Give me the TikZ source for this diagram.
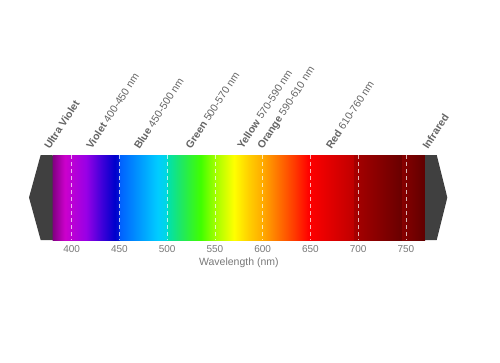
\documentclass[tikz,border=0pt]{standalone}
\usepackage{fontspec}
\setmainfont{Liberation Sans}

\definecolor{bandtext}{RGB}{100,100,100}
\definecolor{ticktext}{RGB}{120,120,120}
\definecolor{sidegrey}{RGB}{64,64,64}
% spectrum stops
\definecolor{sp380}{RGB}{128,0,128}
\definecolor{sp393}{RGB}{204,0,204}
\definecolor{sp415}{RGB}{153,0,230}
\definecolor{sp432}{RGB}{60,0,217}
\definecolor{sp445}{RGB}{0,0,204}
\definecolor{sp450a}{RGB}{0,20,210}
\definecolor{sp450b}{RGB}{0,96,255}
\definecolor{sp470}{RGB}{0,150,255}
\definecolor{sp490}{RGB}{0,204,255}
\definecolor{sp500a}{RGB}{0,216,224}
\definecolor{sp500b}{RGB}{0,224,176}
\definecolor{sp515}{RGB}{32,232,96}
\definecolor{sp535}{RGB}{64,255,0}
\definecolor{sp550}{RGB}{160,255,0}
\definecolor{sp570}{RGB}{255,255,0}
\definecolor{sp585}{RGB}{255,208,0}
\definecolor{sp600}{RGB}{255,170,0}
\definecolor{sp615}{RGB}{255,119,0}
\definecolor{sp635}{RGB}{255,51,0}
\definecolor{sp648}{RGB}{255,0,0}
\definecolor{sp700a}{RGB}{192,0,0}
\definecolor{sp700b}{RGB}{168,0,0}
\definecolor{sp748}{RGB}{108,0,0}
\definecolor{sp750}{RGB}{136,0,0}
\definecolor{sp770}{RGB}{96,0,0}

\pgfdeclarehorizontalshading{spectrum}{100bp}{color(0bp)=(sp380); color(25bp)=(sp380);
  color(26.667bp)=(sp393); color(29.487bp)=(sp415); color(31.667bp)=(sp432);
  color(33.333bp)=(sp445); color(33.96bp)=(sp450a); color(33.99bp)=(sp450b);
  color(36.538bp)=(sp470); color(39.103bp)=(sp490); color(40.37bp)=(sp500a);
  color(40.40bp)=(sp500b); color(42.308bp)=(sp515); color(44.872bp)=(sp535);
  color(46.795bp)=(sp550); color(49.359bp)=(sp570); color(51.282bp)=(sp585);
  color(53.205bp)=(sp600); color(55.128bp)=(sp615); color(57.692bp)=(sp635);
  color(59.359bp)=(sp648); color(65.37bp)=(sp700a); color(65.40bp)=(sp700b);
  color(71.538bp)=(sp748); color(71.78bp)=(sp748); color(71.81bp)=(sp750);
  color(75bp)=(sp770); color(100bp)=(sp770)}

\tikzset{
  band/.style={rotate=57, anchor=base west, inner sep=0pt, text=bandtext,
    font=\fontsize{10.5}{12}\selectfont},
  tick/.style={text=ticktext, inner sep=0pt, font=\fontsize{10}{12}\selectfont},
  divider/.style={white, opacity=0.7, line width=0.8pt, dash pattern=on 4pt off 3pt}
}

\begin{document}
\begin{tikzpicture}[x=1pt, y=1pt]
  \useasboundingbox (0,0) rectangle (500,362);
  \begin{scope}[x=0.955pt, xshift=-310.3pt]
    % colour bar, x in nm
    \shade[shading=spectrum] (380,122) rectangle (770,207);
    \fill[sidegrey] (380,207) -- (367.5,207) -- (355.3,164.5) -- (367.5,122) -- (380,122) -- cycle;
    \fill[sidegrey] (770,207) -- (782.2,207) -- (793.3,164.5) -- (782.2,122) -- (770,122) -- cycle;
    % dividers and tick labels
    \foreach \w in {400,450,...,750} {
      \draw[divider] (\w,207) -- (\w,122);
      \node[tick] (t\w) at (\w,113) {\w};
    }
    \node[tick, font=\fontsize{10.5}{12}\selectfont] (axis) at (575,99) {Wavelength (nm)};
    % band labels
    \node[band] (uv) at (377,212) {\textbf{Ultra Violet}};
    \node[band] (violet) at (421,212) {\textbf{Violet} 400-450 nm};
    \node[band] (blue) at (471,212) {\textbf{Blue} 450-500 nm};
    \node[band] (green) at (525,212) {\textbf{Green} 500-570 nm};
    \node[band] (yellow) at (579,212) {\textbf{Yellow} 570-590 nm};
    \node[band] (orange) at (600,212) {\textbf{Orange} 590-610 nm};
    \node[band] (red) at (672,212) {\textbf{Red} 610-760 nm};
    \node[band] (ir) at (773,212) {\textbf{Infrared}};
  \end{scope}
\end{tikzpicture}
\end{document}
